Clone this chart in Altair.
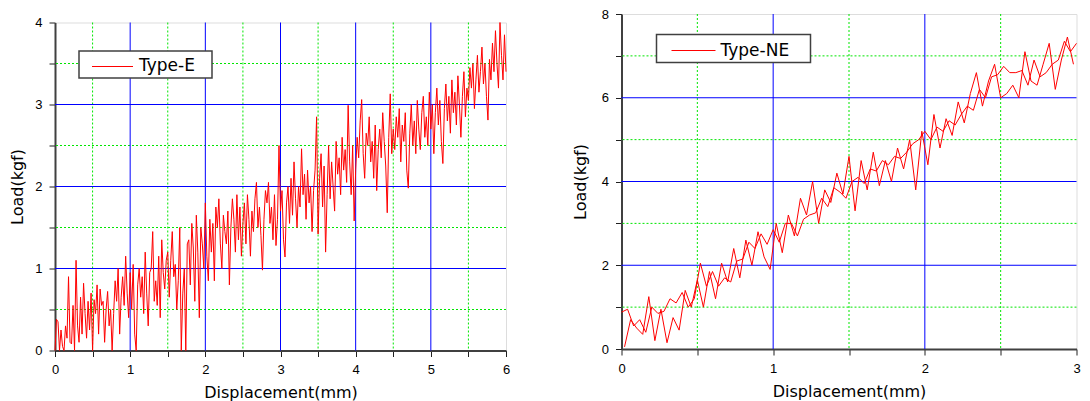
import altair as alt
import pandas as pd

LABEL_FONT = "Liberation Sans"
TITLE_FONT = "DejaVu Sans"

# ---------------- Type-E (left panel) ----------------
E_STEP = 0.02  # displacement sampling interval (mm)
E_LOAD = [
    0.0, 0.38, 0.35, 0.0, 0.25, 0.05, 0.0, 0.3, 0.15, 0.9, 0.1, 0.08, 0.55, 0.0, 1.1, 0.3, 0.1, 0.65, 0.2, 0.82, 0.45, 0.15, 0.6, 0.25, 0.7,
    0.0, 0.62, 0.45, 0.8, 0.2, 0.75, 0.55, 0.6, 0.1, 0.5, 0.72, 0.3, 0.5, 0.0, 0.45, 0.85, 0.6, 1.0, 0.2, 0.65, 0.9, 0.55, 1.15, 0.7, 0.4,
    0.95, 0.5, 1.05, 0.2, 0.0, 0.8, 1.0, 0.65, 0.9, 0.45, 1.2, 0.7, 0.3, 0.95, 1.0, 1.45, 0.6, 0.85, 0.55, 1.15, 0.4, 1.35, 0.95, 0.75, 1.1,
    1.2, 0.65, 1.1, 1.45, 0.9, 1.05, 0.5, 0.85, 1.5, 0.0, 0.7, 1.0, 0.0, 1.3, 1.35, 0.8, 1.55, 1.25, 0.6, 1.65, 1.2, 0.4, 1.5, 1.3, 1.0,
    1.8, 1.15, 0.85, 1.6, 1.2, 1.55, 0.85, 1.75, 1.5, 1.85, 1.3, 1.0, 1.65, 1.45, 1.3, 1.7, 0.8, 1.5, 1.85, 1.6, 1.2, 1.9, 1.35, 1.75, 1.15,
    1.55, 1.8, 1.3, 1.9, 1.6, 1.15, 1.7, 1.45, 1.85, 2.05, 1.5, 1.75, 1.4, 0.98, 1.6, 1.95, 1.8, 2.05, 1.55, 1.75, 1.35, 1.9, 1.28, 1.6, 2.5,
    1.7, 1.95, 1.35, 1.14, 1.8, 2.0, 1.55, 2.1, 1.65, 2.3, 1.85, 1.5, 2.0, 1.75, 2.46, 1.9, 2.15, 1.6, 2.2, 1.8, 2.0, 1.45, 1.95, 2.2, 2.85,
    1.42, 2.1, 2.4, 1.75, 2.25, 1.2, 1.9, 2.5, 1.85, 2.3, 2.0, 1.7, 2.55, 2.15, 2.35, 1.9, 2.6, 2.2, 2.45, 2.05, 2.99, 2.3, 1.9, 2.5, 1.58,
    2.2, 2.6, 2.35, 2.8, 3.06, 2.4, 2.1, 2.65, 2.5, 2.85, 2.3, 2.55, 2.1, 2.75, 1.95, 2.45, 2.7, 2.35, 2.9, 2.55, 2.25, 1.68, 2.6, 3.13, 2.4,
    2.7, 2.45, 2.85, 2.6, 2.95, 2.3, 2.75, 2.55, 2.9, 2.2, 1.98, 2.65, 3.0, 2.5, 2.8, 2.4, 3.05, 2.7, 2.45, 2.9, 3.1, 2.6, 2.85, 2.5, 3.15,
    2.7, 3.0, 2.4, 2.9, 3.2, 2.75, 3.05, 2.55, 2.28, 2.95, 3.25, 2.8, 3.1, 2.65, 3.3, 2.9, 3.15, 2.75, 3.35, 3.0, 2.6, 3.1, 3.4, 2.85, 3.2,
    3.05, 3.45, 3.2, 3.5, 2.95, 3.3, 3.6, 3.15, 3.4, 3.7, 3.25, 3.5, 3.1, 2.81, 3.55, 3.3, 3.75, 3.4, 3.9, 3.5, 3.2, 4.0, 3.6, 3.3, 3.85,
    3.4,
]

# ---------------- Type-NE (right panel, two specimens) ----------------
NE_STEP = 0.04
NE1_START = 0.0
NE1_LOAD = [
    0.88, 0.95, 0.55, 0.7, 0.4, 1.0, 0.85, 0.9, 1.2, 1.1, 1.35, 1.0, 1.2, 2.05, 1.5, 1.85, 1.5, 1.7, 1.6, 2.1,
    2.15, 2.55, 2.4, 2.75, 2.5, 2.85, 2.55, 3.0, 3.0, 2.7, 3.1, 3.2, 3.25, 3.6, 3.4, 3.85, 3.75, 3.6, 4.0, 4.1,
    3.95, 4.3, 4.25, 4.5, 4.4, 4.6, 4.55, 4.7, 4.9, 5.0, 5.2, 5.0, 5.3, 5.2, 5.45, 5.35, 5.6, 5.8, 5.7, 6.2,
    6.0, 6.5, 6.55, 6.75, 6.6, 6.6, 6.65, 6.3, 6.9, 6.5, 6.6, 6.8, 6.9, 7.35, 7.1, 7.3,
]
NE2_START = 0.02
NE2_LOAD = [
    0.05, 0.7, 0.5, 0.35, 1.25, 0.2, 0.95, 0.15, 0.75, 0.45, 1.4, 1.0, 1.65, 1.0, 1.85, 1.2, 2.05, 1.6, 2.4, 1.7,
    2.6, 2.0, 2.8, 2.2, 1.9, 3.0, 2.3, 3.2, 2.7, 3.6, 3.2, 4.0, 3.0, 3.8, 3.5, 4.2, 3.7, 4.6, 3.3, 4.5,
    3.8, 4.7, 3.9, 4.5, 4.0, 4.8, 4.3, 5.0, 3.8, 5.2, 4.4, 5.6, 4.8, 5.5, 5.1, 5.9, 5.4, 6.1, 6.6, 5.8,
    6.4, 6.8, 6.0, 6.1, 6.3, 6.0, 7.1, 6.4, 6.3, 6.8, 7.3, 6.2, 6.9, 7.45, 6.8,
]

# axes / grids
E_XTICKS = [0, 0.5, 1, 1.5, 2, 2.5, 3, 3.5, 4, 4.5, 5, 5.5, 6]
E_YTICKS = [0, 0.5, 1, 1.5, 2, 2.5, 3, 3.5, 4]
E_XMAJOR = [1, 2, 3, 4, 5]
E_XMINOR = [0.5, 1.5, 2.5, 3.5, 4.5, 5.5]
E_YMAJOR = [1, 2, 3]
E_YMINOR = [0.5, 1.5, 2.5, 3.5]

NE_XTICKS = [0, 0.5, 1, 1.5, 2, 2.5, 3]
NE_YTICKS = [0, 1, 2, 3, 4, 5, 6, 7, 8]
NE_XMAJOR = [1, 2]
NE_XMINOR = [0.5, 1.5, 2.5]
NE_YMAJOR = [2, 4, 6]
NE_YMINOR = [1, 3, 5, 7]

RED = "#ff0000"
BLUE = "#0000ff"
GREEN = "#00e600"


def series_frame(load, start, step, name):
    return pd.DataFrame({
        "disp": [round(start + i * step, 3) for i in range(len(load))],
        "load": load,
        "spec": name,
    })


def axis(title, ticks, label_expr, tpad):
    return alt.Axis(
        title=title, values=ticks, labelExpr=label_expr, grid=False,
        labelFlush=False, labelOverlap=False,
        domainColor="#404040", domainWidth=2, tickColor="#202020", tickSize=6,
        tickWidth=1, labelFont=LABEL_FONT, labelFontSize=13, labelColor="black",
        labelPadding=7, titleFont=TITLE_FONT, titleFontSize=16,
        titleFontWeight="normal", titleColor="black", titlePadding=tpad,
    )


def panel(lines, xdom, ydom, xticks, yticks, xlab, ylab,
          xmaj, xmin, ymaj, ymin, w, h, ytpad, legend_text, box, seg, txt):
    xs = alt.Scale(domain=xdom, nice=False, zero=False)
    ys = alt.Scale(domain=ydom, nice=False, zero=False)
    xax = axis("Displacement(mm)", xticks, xlab, 8)
    yax = axis("Load(kgf)", yticks, ylab, ytpad)

    gx_min = alt.Chart(pd.DataFrame({"v": xmin})).mark_rule(
        color=GREEN, strokeWidth=1, strokeDash=[2, 2]
    ).encode(x=alt.X("v:Q", scale=xs, axis=xax))
    gy_min = alt.Chart(pd.DataFrame({"v": ymin})).mark_rule(
        color=GREEN, strokeWidth=1, strokeDash=[2, 2]
    ).encode(y=alt.Y("v:Q", scale=ys, axis=yax))
    gx_maj = alt.Chart(pd.DataFrame({"v": xmaj})).mark_rule(
        color=BLUE, strokeWidth=1
    ).encode(x=alt.X("v:Q", scale=xs, axis=xax))
    gy_maj = alt.Chart(pd.DataFrame({"v": ymaj})).mark_rule(
        color=BLUE, strokeWidth=1
    ).encode(y=alt.Y("v:Q", scale=ys, axis=yax))

    line = alt.Chart(lines).mark_line(color=RED, strokeWidth=1).encode(
        x=alt.X("disp:Q", scale=xs, axis=xax),
        y=alt.Y("load:Q", scale=ys, axis=yax),
        detail="spec:N",
        order="disp:Q",
    )

    one = pd.DataFrame({"k": [0]})
    lbox = alt.Chart(one).mark_rect(fill="white", stroke="#404040", strokeWidth=1.5).encode(
        x=alt.value(box[0]), x2=alt.value(box[1]), y=alt.value(box[2]), y2=alt.value(box[3])
    )
    lseg = alt.Chart(one).mark_rule(color=RED, strokeWidth=1).encode(
        x=alt.value(seg[0]), x2=alt.value(seg[1]), y=alt.value(seg[2])
    )
    ltxt = alt.Chart(one).mark_text(
        align="left", baseline="middle", font=TITLE_FONT, fontSize=17, color="black"
    ).encode(x=alt.value(txt[0]), y=alt.value(txt[1]), text=alt.value(legend_text))

    return alt.layer(gx_min, gy_min, gx_maj, gy_maj, line, lbox, lseg, ltxt).properties(
        width=w, height=h
    )


e_df = series_frame(E_LOAD, 0.0, E_STEP, "E")
ne_df = pd.concat([
    series_frame(NE1_LOAD, NE1_START, NE_STEP, "NE1"),
    series_frame(NE2_LOAD, NE2_START, NE_STEP, "NE2"),
])

int_lab = "datum.value % 1 == 0 ? format(datum.value, 'd') : ''"
even_lab = "datum.value % 2 == 0 ? format(datum.value, 'd') : ''"

left = panel(e_df, [0, 6], [0, 4], E_XTICKS, E_YTICKS, int_lab, int_lab,
             E_XMAJOR, E_XMINOR, E_YMAJOR, E_YMINOR, 451, 328, 9.2, "Type-E",
             (24, 157, 28.5, 55.5), (37, 78, 44), (84, 43.5))
right = panel(ne_df, [0, 3], [0, 8], NE_XTICKS, NE_YTICKS, int_lab, even_lab,
              NE_XMAJOR, NE_XMINOR, NE_YMAJOR, NE_YMINOR, 455, 335, 13, "Type-NE",
              (35, 189, 20.5, 48.5), (50, 94, 36.5), (99, 36.5))

# invisible spacer that lowers the left panel a little below the right one
spacer = alt.Chart(pd.DataFrame({"k": [0]})).mark_rect(opacity=0).encode(
    x=alt.value(0), x2=alt.value(1), y=alt.value(0), y2=alt.value(1)
).properties(width=451, height=1, view=alt.ViewBackground(stroke="transparent", strokeWidth=0))

left_col = alt.vconcat(spacer, left, spacing=0.5)

chart = alt.hconcat(left_col, right, spacing=60.5).properties(
    padding={"left": 1, "top": -1, "right": 0, "bottom": 0}
).configure_view(stroke="#202020", strokeWidth=1.5).configure(background="white")

chart.save("out.html", embed_options={"renderer": "svg", "actions": False})
